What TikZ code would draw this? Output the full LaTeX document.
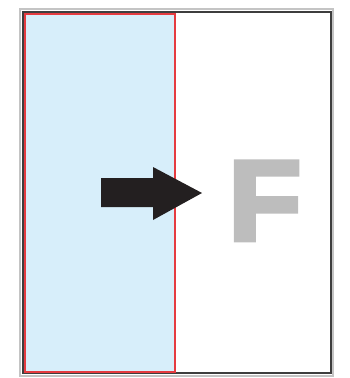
\documentclass[tikz,border=0pt]{standalone}
\usepackage{fontspec}
\setmainfont{Liberation Sans}
\newfontfamily\heavyfont[FakeBold=4]{Liberation Sans Bold}
\definecolor{paneblue}{HTML}{D7EEFA}
\definecolor{panered}{HTML}{E53B40}
\definecolor{framegray}{HTML}{3E3E3E}
\definecolor{shadowgray}{HTML}{C4C4C4}
\definecolor{lettergray}{HTML}{BDBDBD}
\definecolor{arrowblack}{HTML}{231F20}
\begin{document}
\begin{tikzpicture}[x=1pt, y=-1pt,
		shadow/.style={draw=shadowgray, line width=1.5pt},
		frame/.style={draw=framegray, line width=2pt},
		pane/.style={draw=panered, fill=paneblue, line width=1.8pt},
		pointer/.style={fill=arrowblack},
		letter/.style={text=lettergray, inner sep=0pt, font=\heavyfont\fontsize{114}{114}\selectfont, xscale=1.05}]
		\useasboundingbox (0, 0) rectangle (350, 378);

		% Frame
		\draw[shadow] (20, 9) rectangle (333, 376);
		\draw[frame] (23, 12) rectangle (331, 373);

		% Pane
		\draw[pane] (25, 14) rectangle (175, 372);

		% Arrow
		\coordinate (tail) at (101, 193);
		\coordinate (tip) at (202, 193);
		\fill[pointer] (101, 178) -- (153, 178) -- (153, 167) -- (tip)
			-- (153, 220) -- (153, 207) -- (101, 207) -- cycle;

		% Letter
		\node[letter, anchor=base west] (f) at (228, 240) {F};
	\end{tikzpicture}
\end{document}
